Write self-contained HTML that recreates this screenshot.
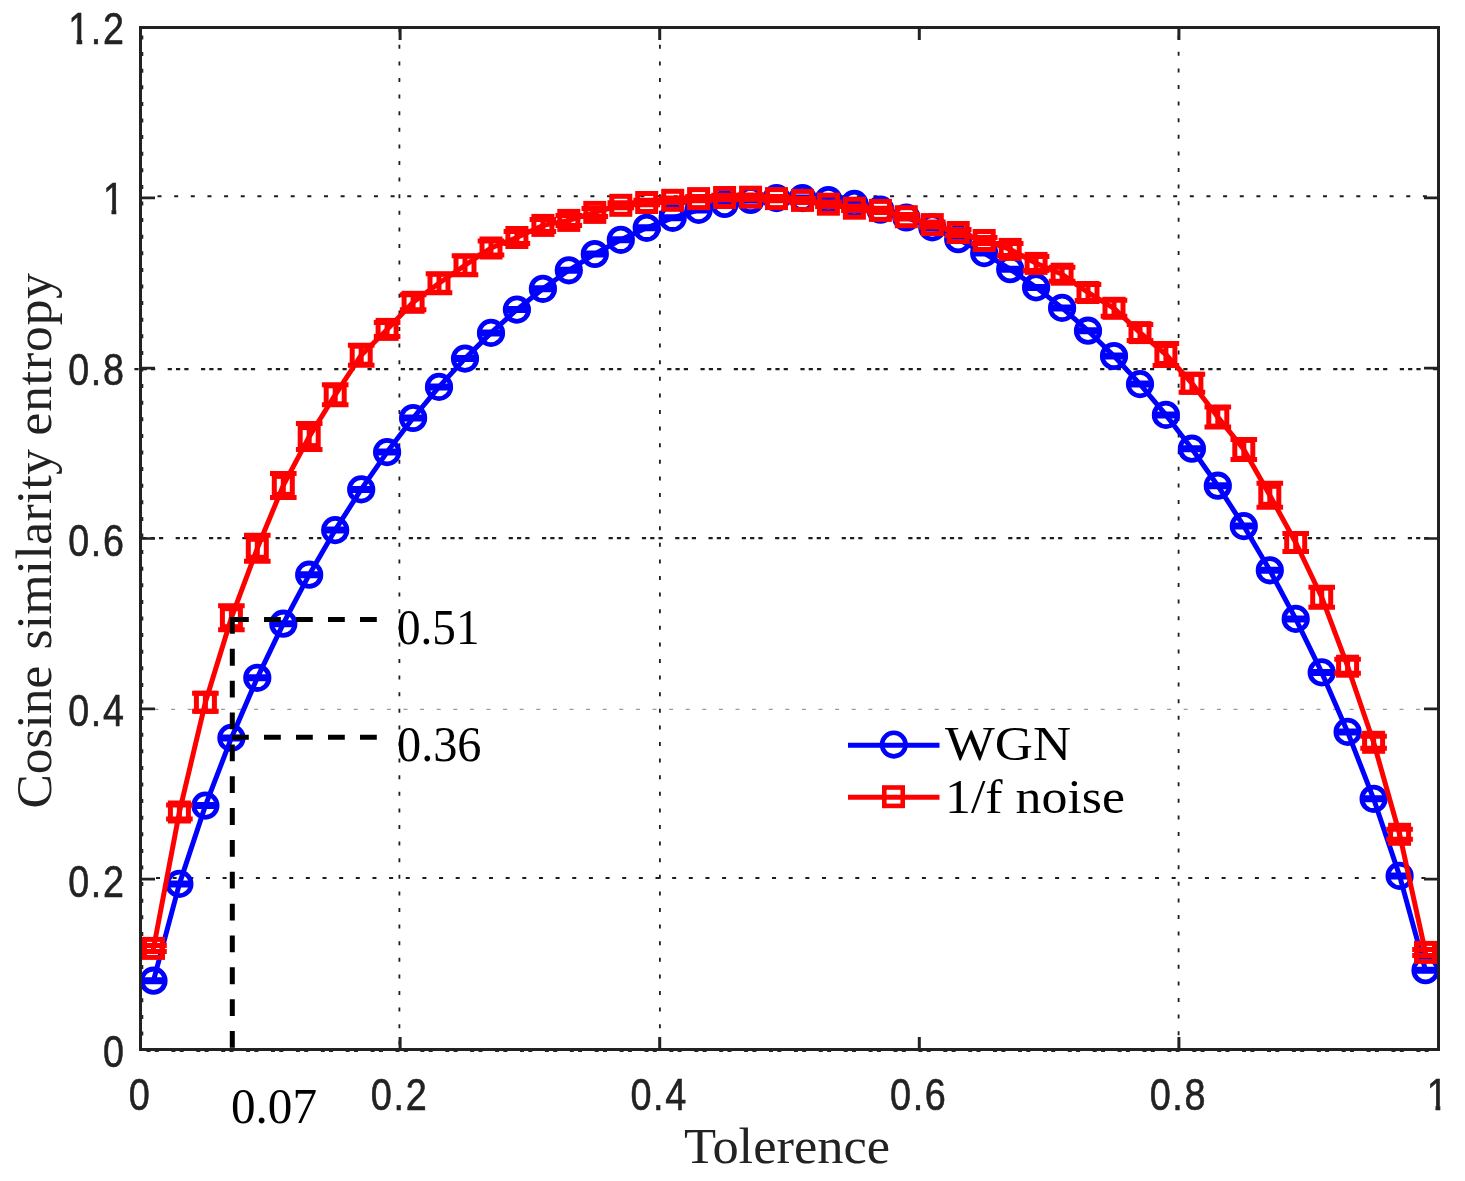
<!DOCTYPE html>
<html lang="en">
<head>
<meta charset="utf-8">
<title>Cosine similarity entropy vs tolerance</title>
<style>html,body{margin:0;padding:0;background:#fff}body{width:1465px;height:1181px;overflow:hidden}svg{display:block}</style>
</head>
<body>
<svg width="1465" height="1181" viewBox="0 0 1465 1181">
<rect x="0" y="0" width="1465" height="1181" fill="#fff"/>
<g fill="none" stroke="#1c1c1c" stroke-width="2.1">
<line x1="399.4" y1="28.2" x2="399.4" y2="1049.5" stroke-dasharray="4 12.6" stroke-width="1.8"/>
<line x1="659.9" y1="28.2" x2="659.9" y2="1049.5" stroke-dasharray="4 12.6" stroke-width="1.8"/>
<line x1="1178.6" y1="35.2" x2="1178.6" y2="1049.5" stroke-dasharray="4 12.6" stroke-width="1.8"/>
<line x1="156.0" y1="878.0" x2="1438.5" y2="878.0" stroke-dasharray="4 12.65"/>
<line x1="142.4" y1="538.1" x2="1438.5" y2="538.1" stroke-dasharray="4.2 4.1 4.2 4.1 4.2 12.5"/>
<line x1="134.4" y1="369.1" x2="1438.5" y2="369.1" stroke-dasharray="4.2 4.1 4.2 4.1 4.2 12.5"/>
<line x1="157.5" y1="196.3" x2="1438.5" y2="196.3" stroke-dasharray="4 12.65"/>
</g>
<line x1="154.5" y1="709.3" x2="1424.5" y2="709.3" stroke="#9c9c9c" stroke-width="1.3" stroke-dasharray="4 12.6"/>
<line x1="142.3" y1="35.5" x2="142.3" y2="1049.5" stroke="#222" stroke-width="2" stroke-dasharray="4 12.6"/>
<line x1="146.5" y1="1051.1" x2="1438.5" y2="1051.1" stroke="#222" stroke-width="2" stroke-dasharray="4 4.3 4 12.6"/>
<g>
<g fill="none" stroke="#0000ff" stroke-width="5">
<polyline points="153.5,980.7 179.4,883.9 205.4,805.6 231.4,737.9 257.3,677.8 283.3,623.7 309.2,574.7 335.2,530.1 361.2,489.4 387.1,452.1 413.1,418.0 439.0,386.9 465.0,358.6 491.0,332.9 516.9,309.6 542.9,288.8 568.8,270.3 594.8,254.0 620.8,239.8 646.7,227.8 672.7,217.8 698.6,209.9 724.6,204.0 750.6,200.0 776.5,198.1 802.5,198.1 828.4,200.0 854.4,203.9 880.4,209.7 906.3,217.5 932.3,227.4 958.2,239.2 984.2,253.1 1010.2,269.2 1036.1,287.4 1062.1,307.9 1088.0,330.7 1114.0,356.0 1140.0,384.1 1165.9,414.9 1191.9,448.7 1217.8,485.7 1243.8,526.1 1269.8,570.3 1295.7,618.9 1321.7,672.4 1347.6,731.9 1373.6,798.8 1399.6,875.9 1425.5,970.2" stroke-linejoin="round"/>
<path d="M140.2 979.7H166.8M140.2 981.7H166.8"/>
<circle cx="153.5" cy="980.7" r="11.7" stroke-width="4.8"/>
<path d="M166.1 882.9H192.7M166.1 884.9H192.7"/>
<circle cx="179.4" cy="883.9" r="11.7" stroke-width="4.8"/>
<path d="M192.1 804.6H218.7M192.1 806.6H218.7"/>
<circle cx="205.4" cy="805.6" r="11.7" stroke-width="4.8"/>
<path d="M218.1 736.9H244.7M218.1 738.9H244.7"/>
<circle cx="231.4" cy="737.9" r="11.7" stroke-width="4.8"/>
<path d="M244.0 676.8H270.6M244.0 678.8H270.6"/>
<circle cx="257.3" cy="677.8" r="11.7" stroke-width="4.8"/>
<path d="M270.0 622.7H296.6M270.0 624.7H296.6"/>
<circle cx="283.3" cy="623.7" r="11.7" stroke-width="4.8"/>
<path d="M295.9 573.7H322.5M295.9 575.7H322.5"/>
<circle cx="309.2" cy="574.7" r="11.7" stroke-width="4.8"/>
<path d="M321.9 529.1H348.5M321.9 531.1H348.5"/>
<circle cx="335.2" cy="530.1" r="11.7" stroke-width="4.8"/>
<path d="M347.9 488.4H374.5M347.9 490.4H374.5"/>
<circle cx="361.2" cy="489.4" r="11.7" stroke-width="4.8"/>
<path d="M373.8 451.1H400.4M373.8 453.1H400.4"/>
<circle cx="387.1" cy="452.1" r="11.7" stroke-width="4.8"/>
<path d="M399.8 417.0H426.4M399.8 419.0H426.4"/>
<circle cx="413.1" cy="418.0" r="11.7" stroke-width="4.8"/>
<path d="M425.7 385.9H452.3M425.7 387.9H452.3"/>
<circle cx="439.0" cy="386.9" r="11.7" stroke-width="4.8"/>
<path d="M451.7 357.6H478.3M451.7 359.6H478.3"/>
<circle cx="465.0" cy="358.6" r="11.7" stroke-width="4.8"/>
<path d="M477.7 331.9H504.3M477.7 333.9H504.3"/>
<circle cx="491.0" cy="332.9" r="11.7" stroke-width="4.8"/>
<path d="M503.6 308.6H530.2M503.6 310.6H530.2"/>
<circle cx="516.9" cy="309.6" r="11.7" stroke-width="4.8"/>
<path d="M529.6 287.8H556.2M529.6 289.8H556.2"/>
<circle cx="542.9" cy="288.8" r="11.7" stroke-width="4.8"/>
<path d="M555.5 269.3H582.1M555.5 271.3H582.1"/>
<circle cx="568.8" cy="270.3" r="11.7" stroke-width="4.8"/>
<path d="M581.5 253.0H608.1M581.5 255.0H608.1"/>
<circle cx="594.8" cy="254.0" r="11.7" stroke-width="4.8"/>
<path d="M607.5 238.8H634.1M607.5 240.8H634.1"/>
<circle cx="620.8" cy="239.8" r="11.7" stroke-width="4.8"/>
<path d="M633.4 226.8H660.0M633.4 228.8H660.0"/>
<circle cx="646.7" cy="227.8" r="11.7" stroke-width="4.8"/>
<path d="M659.4 216.8H686.0M659.4 218.8H686.0"/>
<circle cx="672.7" cy="217.8" r="11.7" stroke-width="4.8"/>
<path d="M685.3 208.9H711.9M685.3 210.9H711.9"/>
<circle cx="698.6" cy="209.9" r="11.7" stroke-width="4.8"/>
<path d="M711.3 203.0H737.9M711.3 205.0H737.9"/>
<circle cx="724.6" cy="204.0" r="11.7" stroke-width="4.8"/>
<path d="M737.3 199.0H763.9M737.3 201.0H763.9"/>
<circle cx="750.6" cy="200.0" r="11.7" stroke-width="4.8"/>
<path d="M763.2 197.1H789.8M763.2 199.1H789.8"/>
<circle cx="776.5" cy="198.1" r="11.7" stroke-width="4.8"/>
<path d="M789.2 197.1H815.8M789.2 199.1H815.8"/>
<circle cx="802.5" cy="198.1" r="11.7" stroke-width="4.8"/>
<path d="M815.1 199.0H841.7M815.1 201.0H841.7"/>
<circle cx="828.4" cy="200.0" r="11.7" stroke-width="4.8"/>
<path d="M841.1 202.9H867.7M841.1 204.9H867.7"/>
<circle cx="854.4" cy="203.9" r="11.7" stroke-width="4.8"/>
<path d="M867.1 208.7H893.7M867.1 210.7H893.7"/>
<circle cx="880.4" cy="209.7" r="11.7" stroke-width="4.8"/>
<path d="M893.0 216.5H919.6M893.0 218.5H919.6"/>
<circle cx="906.3" cy="217.5" r="11.7" stroke-width="4.8"/>
<path d="M919.0 226.4H945.6M919.0 228.4H945.6"/>
<circle cx="932.3" cy="227.4" r="11.7" stroke-width="4.8"/>
<path d="M944.9 238.2H971.5M944.9 240.2H971.5"/>
<circle cx="958.2" cy="239.2" r="11.7" stroke-width="4.8"/>
<path d="M970.9 252.1H997.5M970.9 254.1H997.5"/>
<circle cx="984.2" cy="253.1" r="11.7" stroke-width="4.8"/>
<path d="M996.9 268.2H1023.5M996.9 270.2H1023.5"/>
<circle cx="1010.2" cy="269.2" r="11.7" stroke-width="4.8"/>
<path d="M1022.8 286.4H1049.4M1022.8 288.4H1049.4"/>
<circle cx="1036.1" cy="287.4" r="11.7" stroke-width="4.8"/>
<path d="M1048.8 306.9H1075.4M1048.8 308.9H1075.4"/>
<circle cx="1062.1" cy="307.9" r="11.7" stroke-width="4.8"/>
<path d="M1074.7 329.7H1101.3M1074.7 331.7H1101.3"/>
<circle cx="1088.0" cy="330.7" r="11.7" stroke-width="4.8"/>
<path d="M1100.7 355.0H1127.3M1100.7 357.0H1127.3"/>
<circle cx="1114.0" cy="356.0" r="11.7" stroke-width="4.8"/>
<path d="M1126.7 383.1H1153.3M1126.7 385.1H1153.3"/>
<circle cx="1140.0" cy="384.1" r="11.7" stroke-width="4.8"/>
<path d="M1152.6 413.9H1179.2M1152.6 415.9H1179.2"/>
<circle cx="1165.9" cy="414.9" r="11.7" stroke-width="4.8"/>
<path d="M1178.6 447.7H1205.2M1178.6 449.7H1205.2"/>
<circle cx="1191.9" cy="448.7" r="11.7" stroke-width="4.8"/>
<path d="M1204.5 484.7H1231.1M1204.5 486.7H1231.1"/>
<circle cx="1217.8" cy="485.7" r="11.7" stroke-width="4.8"/>
<path d="M1230.5 525.1H1257.1M1230.5 527.1H1257.1"/>
<circle cx="1243.8" cy="526.1" r="11.7" stroke-width="4.8"/>
<path d="M1256.5 569.3H1283.1M1256.5 571.3H1283.1"/>
<circle cx="1269.8" cy="570.3" r="11.7" stroke-width="4.8"/>
<path d="M1282.4 617.9H1309.0M1282.4 619.9H1309.0"/>
<circle cx="1295.7" cy="618.9" r="11.7" stroke-width="4.8"/>
<path d="M1308.4 671.4H1335.0M1308.4 673.4H1335.0"/>
<circle cx="1321.7" cy="672.4" r="11.7" stroke-width="4.8"/>
<path d="M1334.3 730.9H1360.9M1334.3 732.9H1360.9"/>
<circle cx="1347.6" cy="731.9" r="11.7" stroke-width="4.8"/>
<path d="M1360.3 797.8H1386.9M1360.3 799.8H1386.9"/>
<circle cx="1373.6" cy="798.8" r="11.7" stroke-width="4.8"/>
<path d="M1386.3 874.9H1412.9M1386.3 876.9H1412.9"/>
<circle cx="1399.6" cy="875.9" r="11.7" stroke-width="4.8"/>
<path d="M1412.2 969.2H1438.8M1412.2 971.2H1438.8"/>
<circle cx="1425.5" cy="970.2" r="11.7" stroke-width="4.8"/>
</g>
<g fill="none" stroke="#ff0000" stroke-width="5">
<polyline points="153.5,948.4 179.4,812.0 205.4,702.3 231.4,617.7 257.3,548.3 283.3,485.4 309.2,436.6 335.2,394.8 361.2,355.2 387.1,329.4 413.1,302.3 439.0,283.3 465.0,265.3 491.0,248.0 516.9,237.5 542.9,225.4 568.8,220.4 594.8,212.4 620.8,205.3 646.7,202.5 672.7,200.3 698.6,198.6 724.6,197.5 750.6,197.2 776.5,198.6 802.5,200.4 828.4,204.2 854.4,208.2 880.4,210.4 906.3,216.7 932.3,224.6 958.2,232.5 984.2,240.5 1010.2,249.4 1036.1,263.4 1062.1,274.2 1088.0,292.5 1114.0,308.3 1140.0,332.6 1165.9,354.5 1191.9,383.3 1217.8,417.1 1243.8,449.4 1269.8,495.3 1295.7,542.5 1321.7,597.2 1347.6,666.2 1373.6,742.3 1399.6,834.3 1425.5,952.4" stroke-linejoin="round"/>
<path d="M153.5 945.4V951.4M140.2 945.4H166.8M140.2 951.4H166.8"/>
<rect x="144.5" y="939.4" width="18" height="18" stroke-width="5"/>
<path d="M179.4 805.0V819.0M166.1 805.0H192.7M166.1 819.0H192.7"/>
<rect x="170.4" y="803.0" width="18" height="18" stroke-width="5"/>
<path d="M205.4 693.3V711.3M192.1 693.3H218.7M192.1 711.3H218.7"/>
<rect x="196.4" y="693.3" width="18" height="18" stroke-width="5"/>
<path d="M231.4 605.7V629.7M218.1 605.7H244.7M218.1 629.7H244.7"/>
<rect x="222.4" y="608.7" width="18" height="18" stroke-width="5"/>
<path d="M257.3 535.3V561.3M244.0 535.3H270.6M244.0 561.3H270.6"/>
<rect x="248.3" y="539.3" width="18" height="18" stroke-width="5"/>
<path d="M283.3 473.4V497.4M270.0 473.4H296.6M270.0 497.4H296.6"/>
<rect x="274.3" y="476.4" width="18" height="18" stroke-width="5"/>
<path d="M309.2 423.6V449.6M295.9 423.6H322.5M295.9 449.6H322.5"/>
<rect x="300.2" y="427.6" width="18" height="18" stroke-width="5"/>
<path d="M335.2 384.8V404.8M321.9 384.8H348.5M321.9 404.8H348.5"/>
<rect x="326.2" y="385.8" width="18" height="18" stroke-width="5"/>
<path d="M361.2 345.2V365.2M347.9 345.2H374.5M347.9 365.2H374.5"/>
<rect x="352.2" y="346.2" width="18" height="18" stroke-width="5"/>
<path d="M387.1 322.4V336.4M373.8 322.4H400.4M373.8 336.4H400.4"/>
<rect x="378.1" y="320.4" width="18" height="18" stroke-width="5"/>
<path d="M413.1 294.8V309.8M399.8 294.8H426.4M399.8 309.8H426.4"/>
<rect x="404.1" y="293.3" width="18" height="18" stroke-width="5"/>
<path d="M439.0 273.8V292.8M425.7 273.8H452.3M425.7 292.8H452.3"/>
<rect x="430.0" y="274.3" width="18" height="18" stroke-width="5"/>
<path d="M465.0 255.8V274.8M451.7 255.8H478.3M451.7 274.8H478.3"/>
<rect x="456.0" y="256.3" width="18" height="18" stroke-width="5"/>
<path d="M491.0 241.0V255.0M477.7 241.0H504.3M477.7 255.0H504.3"/>
<rect x="482.0" y="239.0" width="18" height="18" stroke-width="5"/>
<path d="M516.9 231.5V243.5M503.6 231.5H530.2M503.6 243.5H530.2"/>
<rect x="507.9" y="228.5" width="18" height="18" stroke-width="5"/>
<path d="M542.9 219.4V231.4M529.6 219.4H556.2M529.6 231.4H556.2"/>
<rect x="533.9" y="216.4" width="18" height="18" stroke-width="5"/>
<path d="M568.8 215.4V225.4M555.5 215.4H582.1M555.5 225.4H582.1"/>
<rect x="559.8" y="211.4" width="18" height="18" stroke-width="5"/>
<path d="M594.8 208.4V216.4M581.5 208.4H608.1M581.5 216.4H608.1"/>
<rect x="585.8" y="203.4" width="18" height="18" stroke-width="5"/>
<path d="M620.8 202.8V207.8M607.5 202.8H634.1M607.5 207.8H634.1"/>
<rect x="611.8" y="196.3" width="18" height="18" stroke-width="5"/>
<path d="M646.7 200.3V204.7M633.4 200.3H660.0M633.4 204.7H660.0"/>
<rect x="637.7" y="193.5" width="18" height="18" stroke-width="5"/>
<path d="M672.7 198.1V202.5M659.4 198.1H686.0M659.4 202.5H686.0"/>
<rect x="663.7" y="191.3" width="18" height="18" stroke-width="5"/>
<path d="M698.6 196.4V200.8M685.3 196.4H711.9M685.3 200.8H711.9"/>
<rect x="689.6" y="189.6" width="18" height="18" stroke-width="5"/>
<path d="M724.6 195.3V199.7M711.3 195.3H737.9M711.3 199.7H737.9"/>
<rect x="715.6" y="188.5" width="18" height="18" stroke-width="5"/>
<path d="M750.6 195.0V199.4M737.3 195.0H763.9M737.3 199.4H763.9"/>
<rect x="741.6" y="188.2" width="18" height="18" stroke-width="5"/>
<path d="M776.5 196.4V200.8M763.2 196.4H789.8M763.2 200.8H789.8"/>
<rect x="767.5" y="189.6" width="18" height="18" stroke-width="5"/>
<path d="M802.5 198.2V202.6M789.2 198.2H815.8M789.2 202.6H815.8"/>
<rect x="793.5" y="191.4" width="18" height="18" stroke-width="5"/>
<path d="M828.4 202.0V206.4M815.1 202.0H841.7M815.1 206.4H841.7"/>
<rect x="819.4" y="195.2" width="18" height="18" stroke-width="5"/>
<path d="M854.4 206.0V210.4M841.1 206.0H867.7M841.1 210.4H867.7"/>
<rect x="845.4" y="199.2" width="18" height="18" stroke-width="5"/>
<path d="M880.4 208.2V212.6M867.1 208.2H893.7M867.1 212.6H893.7"/>
<rect x="871.4" y="201.4" width="18" height="18" stroke-width="5"/>
<path d="M906.3 214.5V218.9M893.0 214.5H919.6M893.0 218.9H919.6"/>
<rect x="897.3" y="207.7" width="18" height="18" stroke-width="5"/>
<path d="M932.3 222.1V227.1M919.0 222.1H945.6M919.0 227.1H945.6"/>
<rect x="923.3" y="215.6" width="18" height="18" stroke-width="5"/>
<path d="M958.2 229.5V235.5M944.9 229.5H971.5M944.9 235.5H971.5"/>
<rect x="949.2" y="223.5" width="18" height="18" stroke-width="5"/>
<path d="M984.2 237.5V243.5M970.9 237.5H997.5M970.9 243.5H997.5"/>
<rect x="975.2" y="231.5" width="18" height="18" stroke-width="5"/>
<path d="M1010.2 243.4V255.4M996.9 243.4H1023.5M996.9 255.4H1023.5"/>
<rect x="1001.2" y="240.4" width="18" height="18" stroke-width="5"/>
<path d="M1036.1 256.4V270.4M1022.8 256.4H1049.4M1022.8 270.4H1049.4"/>
<rect x="1027.1" y="254.4" width="18" height="18" stroke-width="5"/>
<path d="M1062.1 267.2V281.2M1048.8 267.2H1075.4M1048.8 281.2H1075.4"/>
<rect x="1053.1" y="265.2" width="18" height="18" stroke-width="5"/>
<path d="M1088.0 284.5V300.5M1074.7 284.5H1101.3M1074.7 300.5H1101.3"/>
<rect x="1079.0" y="283.5" width="18" height="18" stroke-width="5"/>
<path d="M1114.0 300.3V316.3M1100.7 300.3H1127.3M1100.7 316.3H1127.3"/>
<rect x="1105.0" y="299.3" width="18" height="18" stroke-width="5"/>
<path d="M1140.0 324.6V340.6M1126.7 324.6H1153.3M1126.7 340.6H1153.3"/>
<rect x="1131.0" y="323.6" width="18" height="18" stroke-width="5"/>
<path d="M1165.9 343.5V365.5M1152.6 343.5H1179.2M1152.6 365.5H1179.2"/>
<rect x="1156.9" y="345.5" width="18" height="18" stroke-width="5"/>
<path d="M1191.9 374.3V392.3M1178.6 374.3H1205.2M1178.6 392.3H1205.2"/>
<rect x="1182.9" y="374.3" width="18" height="18" stroke-width="5"/>
<path d="M1217.8 407.1V427.1M1204.5 407.1H1231.1M1204.5 427.1H1231.1"/>
<rect x="1208.8" y="408.1" width="18" height="18" stroke-width="5"/>
<path d="M1243.8 439.4V459.4M1230.5 439.4H1257.1M1230.5 459.4H1257.1"/>
<rect x="1234.8" y="440.4" width="18" height="18" stroke-width="5"/>
<path d="M1269.8 483.3V507.3M1256.5 483.3H1283.1M1256.5 507.3H1283.1"/>
<rect x="1260.8" y="486.3" width="18" height="18" stroke-width="5"/>
<path d="M1295.7 533.5V551.5M1282.4 533.5H1309.0M1282.4 551.5H1309.0"/>
<rect x="1286.7" y="533.5" width="18" height="18" stroke-width="5"/>
<path d="M1321.7 587.2V607.2M1308.4 587.2H1335.0M1308.4 607.2H1335.0"/>
<rect x="1312.7" y="588.2" width="18" height="18" stroke-width="5"/>
<path d="M1347.6 659.2V673.2M1334.3 659.2H1360.9M1334.3 673.2H1360.9"/>
<rect x="1338.6" y="657.2" width="18" height="18" stroke-width="5"/>
<path d="M1373.6 736.3V748.3M1360.3 736.3H1386.9M1360.3 748.3H1386.9"/>
<rect x="1364.6" y="733.3" width="18" height="18" stroke-width="5"/>
<path d="M1399.6 829.3V839.3M1386.3 829.3H1412.9M1386.3 839.3H1412.9"/>
<rect x="1390.6" y="825.3" width="18" height="18" stroke-width="5"/>
<path d="M1425.5 949.4V955.4M1412.2 949.4H1438.8M1412.2 955.4H1438.8"/>
<rect x="1416.5" y="943.4" width="18" height="18" stroke-width="5"/>
</g>
</g>
<g fill="none" stroke="#000" stroke-width="5">
<line x1="232.3" y1="617.0" x2="232.3" y2="1049.5" stroke-dasharray="16.8 15.05"/>
<line x1="232.0" y1="619.5" x2="377" y2="619.5" stroke-dasharray="16.8 15.2"/>
<line x1="232.0" y1="737.3" x2="377" y2="737.3" stroke-dasharray="16.8 15.2"/>
</g>
<rect x="140.5" y="27.5" width="1298.0" height="1022.0" fill="none" stroke="#222" stroke-width="3"/>
<g stroke="#222" stroke-width="2.7" fill="none">
<path d="M400.1 1049.5v-12.5M400.1 27.5v12.5" stroke-width="3"/>
<path d="M659.7 1049.5v-12.5M659.7 27.5v12.5" stroke-width="3"/>
<path d="M919.3 1049.5v-12.5M919.3 27.5v12.5" stroke-width="3"/>
<path d="M1178.9 1049.5v-12.5M1178.9 27.5v12.5" stroke-width="3"/>
<path d="M140.5 879.2h14.5M1438.5 879.2h-14.5"/>
<path d="M140.5 708.8h14.5M1438.5 708.8h-14.5"/>
<path d="M140.5 538.5h14.5M1438.5 538.5h-14.5"/>
<path d="M140.5 368.2h14.5M1438.5 368.2h-14.5"/>
<path d="M140.5 197.8h14.5M1438.5 197.8h-14.5"/>
</g>
<clipPath id="cy1"><rect x="95" y="175" width="35" height="34.599999999999994"/><rect x="111.5" y="208.6" width="4.799999999999997" height="16.400000000000006"/></clipPath>
<clipPath id="cy12"><rect x="60" y="5" width="70" height="34.6"/><rect x="76.6" y="38.6" width="5.6000000000000085" height="16.4"/><rect x="90.5" y="38.6" width="39.5" height="16.4"/></clipPath>
<clipPath id="cx1"><rect x="1415" y="1070" width="50" height="35.59999999999991"/><rect x="1435.5" y="1104.6" width="4.7999999999999545" height="15.400000000000091"/></clipPath>
<g font-family="'Liberation Sans', Arial, Helvetica, sans-serif" font-size="43.8" fill="#222" stroke="#222" stroke-width="0.6" letter-spacing="1.9">
<text transform="translate(140.0 1109.6) scale(0.86 1)" text-anchor="middle" font-size="44">0</text>
<text transform="translate(399.6 1109.6) scale(0.86 1)" text-anchor="middle" font-size="44">0.2</text>
<text transform="translate(659.2 1109.6) scale(0.86 1)" text-anchor="middle" font-size="44">0.4</text>
<text transform="translate(918.8 1109.6) scale(0.86 1)" text-anchor="middle" font-size="44">0.6</text>
<text transform="translate(1178.4 1109.6) scale(0.86 1)" text-anchor="middle" font-size="44">0.8</text>
<g clip-path="url(#cx1)"><text transform="translate(1438.0 1109.6) scale(0.86 1)" text-anchor="middle" font-size="44">1</text></g>
<text transform="translate(125.5 1067.3) scale(0.86 1)" text-anchor="end">0</text>
<text transform="translate(125.5 896.8) scale(0.86 1)" text-anchor="end">0.2</text>
<text transform="translate(125.5 726.2) scale(0.86 1)" text-anchor="end">0.4</text>
<text transform="translate(125.5 555.7) scale(0.86 1)" text-anchor="end">0.6</text>
<text transform="translate(125.5 385.4) scale(0.86 1)" text-anchor="end">0.8</text>
<g clip-path="url(#cy1)"><text transform="translate(125.5 213.6) scale(0.86 1)" text-anchor="end">1</text></g>
<g clip-path="url(#cy12)"><text transform="translate(125.5 43.6) scale(0.86 1)" text-anchor="end">1.2</text></g>
</g>
<g font-family="'Liberation Serif', 'Times New Roman', Times, serif" fill="#000">
<text x="684" y="1163" font-size="50.5" fill="#222" textLength="206" lengthAdjust="spacingAndGlyphs">Tolerence</text>
<text transform="translate(50.8 808.6) rotate(-90)" font-size="51.5" fill="#222"><tspan x="0">Cosine </tspan><tspan x="159" letter-spacing="0.35">similarity </tspan><tspan x="373" letter-spacing="0.9">entropy</tspan></text>
<text x="397" y="644" font-size="50" textLength="82.5" lengthAdjust="spacingAndGlyphs">0.51</text>
<text x="397" y="761" font-size="50" textLength="84.5" lengthAdjust="spacingAndGlyphs">0.36</text>
<text x="231" y="1122.7" font-size="50.8" textLength="86" lengthAdjust="spacingAndGlyphs">0.07</text>
<text x="945" y="760" font-size="49.5" textLength="126" lengthAdjust="spacingAndGlyphs">WGN</text>
<text x="945" y="812.5" font-size="49.5" textLength="180" lengthAdjust="spacingAndGlyphs">1/f noise</text>
</g>
<g fill="none" stroke-width="4.6">
<path d="M848 745.2H939.5" stroke="#0000ff" stroke-width="5"/>
<circle cx="893.8" cy="744.6" r="11.8" stroke="#0000ff"/>
<path d="M848 797.2H939.5" stroke="#ff0000" stroke-width="5"/>
<rect x="884.3" y="787.5" width="18.4" height="18.4" stroke="#ff0000"/>
</g>
</svg>
</body>
</html>
